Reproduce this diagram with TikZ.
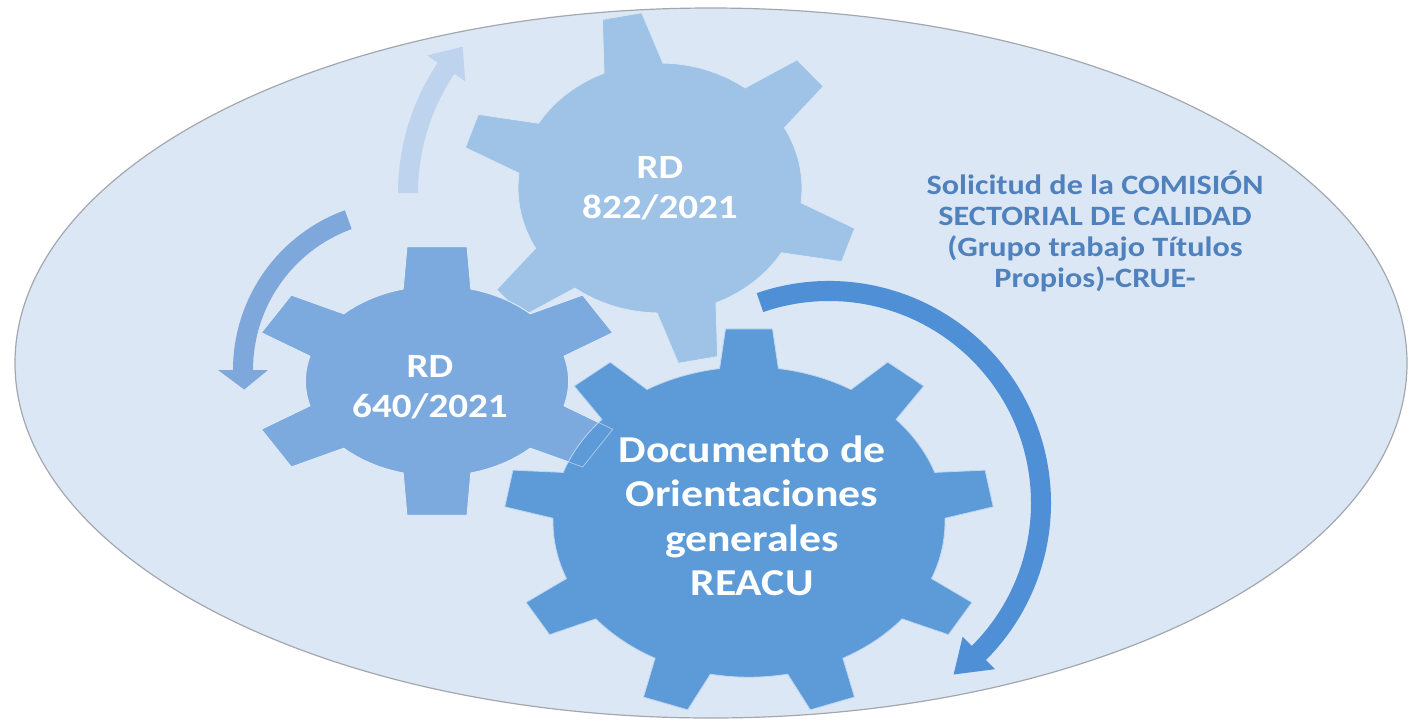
\documentclass[tikz,border=0pt]{standalone}
\usepackage{fontspec}
\setmainfont{Carlito}[FakeStretch=1.15]

\definecolor{ovalfill}{HTML}{DCE7F5}
\definecolor{ovalline}{HTML}{A3A8AE}
\definecolor{gearA}{HTML}{9FC2E7}
\definecolor{gearB}{HTML}{7DAADE}
\definecolor{gearC}{HTML}{5C9BD8}
\definecolor{arrA}{HTML}{BDD3EE}
\definecolor{arrB}{HTML}{7EA8DC}
\definecolor{arrC}{HTML}{4F8FD5}
\definecolor{notecol}{HTML}{4F81BD}

% gear: [style]{centre}{x radius}{y radius}{teeth}{turn}{body}{root half width}{tip half width}
\newcommand{\drawgear}[9][]{%
  \begin{scope}[shift={(#2)}, xscale=#3, yscale=-#4]
  \pgfmathsetmacro\gstep{360/#5}
  \pgfmathsetmacro\groot{asin(#8/#7)}
  \pgfmathsetmacro\gtip{asin(#9)}
  \pgfmathtruncatemacro\glast{#5-1}
  \filldraw[#1] ({#6-\groot}:#7)
    \foreach \k in {0,...,\glast}{
      -- ({#6+\k*\gstep-\gtip}:1) -- ({#6+\k*\gstep+\gtip}:1)
      -- ({#6+\k*\gstep+\groot}:#7)
      arc[start angle={#6+\k*\gstep+\groot}, end angle={#6+(\k+1)*\gstep-\groot}, radius=#7]
    } -- cycle;
  \end{scope}}

% curved arrow: [style]{centre}{radius}{start}{end of shaft}{tip}{head half width}
\newcommand{\circarrow}[7][]{%
  \begin{scope}[shift={(#2)}, yscale=-1]
  \fill[#1] ({#4}:{#3+10}) arc[start angle={#4}, end angle={#5}, radius={#3+10}]
    -- ({#5}:{#3+#7}) -- ({#6}:{#3}) -- ({#5}:{#3-#7}) -- ({#5}:{#3-10})
    arc[start angle={#5}, end angle={#4}, radius={#3-10}] -- cycle;
  \end{scope}}

\begin{document}
\begin{tikzpicture}[x=1pt, y=-1pt]
\tikzstyle{oval}=[fill=ovalfill, draw=ovalline, line width=1.2pt]
\tikzstyle{gtext}=[text=white, align=center, font=\bfseries\fontsize{34}{40}\selectfont]
\tikzstyle{btext}=[text=white, align=center, font=\bfseries\fontsize{38}{44.5}\selectfont]
\tikzstyle{note}=[text=notecol, align=center, font=\bfseries\fontsize{28}{31}\selectfont]
\useasboundingbox (0,0) rectangle (1409,721);
\fill[white] (0,0) rectangle (1409,721);
\draw[oval] (711,363) ellipse [x radius=696, y radius=355];

% arrows behind the gears
\circarrow[arrA]{631,193}{223}{180}{146}{139}{23}
\circarrow[arrB]{403,370}{160}{110}{180}{187}{25}
\circarrow[arrC]{829,503}{212}{109}{-45}{-54}{23}

% gears
\drawgear[fill=gearA, draw=white!60!gearA, line width=0.8pt]{660,188}{200}{176}{6}{101}{0.71}{0.15}{0.10}
\drawgear[fill=gearB, draw=white!60!gearB, line width=0.8pt]{437,381}{188}{136}{6}{90}{0.70}{0.18}{0.16}
\drawgear[fill=gearC, draw=white!60!gearC, line width=0.8pt]{749,522}{245}{194}{9}{90}{0.80}{0.12}{0.096}
% rim of the middle gear showing through
\drawgear[fill=none, draw=white, opacity=0.45, line width=0.8pt]{437,381}{188}{136}{6}{90}{0.70}{0.18}{0.16}

\node[gtext] (t0) at (660,188) {RD\\822/2021};
\node[gtext] (t1) at (430,387) {RD\\640/2021};
\node[btext] (t2) at (752,516) {Documento de\\Orientaciones\\generales\\REACU};
\node[note] (s0) at (1095,231) {Solicitud de la COMISIÓN\\SECTORIAL DE CALIDAD\\(Grupo trabajo Títulos\\Propios)-CRUE-};
\end{tikzpicture}
\end{document}
